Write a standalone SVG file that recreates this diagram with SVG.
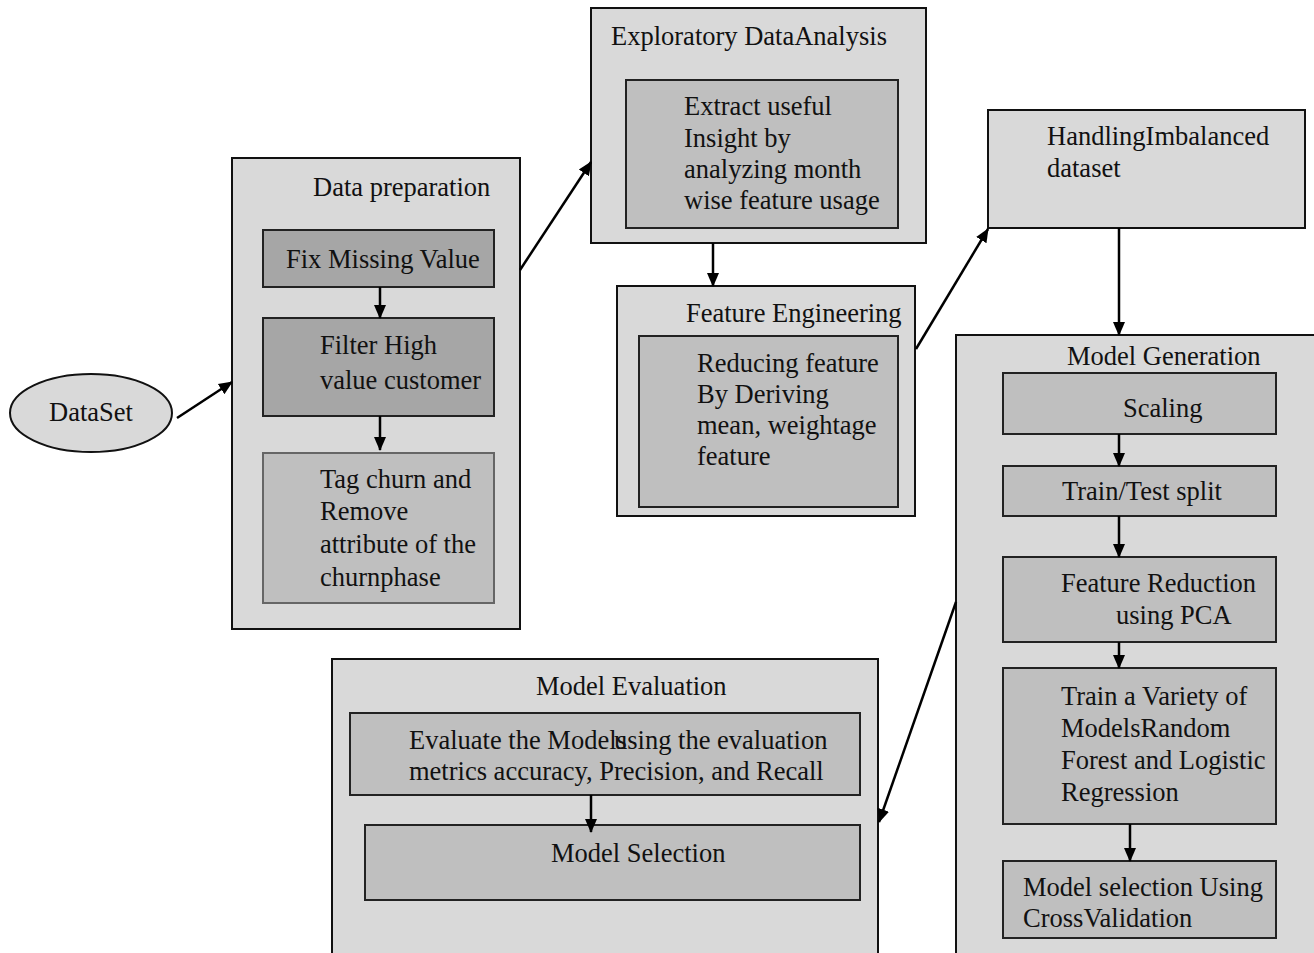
<svg xmlns="http://www.w3.org/2000/svg" width="1314" height="953" viewBox="0 0 1314 953">
<defs>
<marker id="ah" markerUnits="userSpaceOnUse" markerWidth="14" markerHeight="14" viewBox="0 0 14 14" refX="13" refY="7" orient="auto">
<path d="M0,1 L14,7 L0,13 Z" fill="#000"/>
</marker>
<style>
text{font-family:"Liberation Serif","Times New Roman",serif;font-size:26.5px;fill:#111}
.outer{fill:#d9d9d9;stroke:#111;stroke-width:2}
.dark{fill:#a6a6a6;stroke:#222;stroke-width:2}
.mid{fill:#bfbfbf;stroke:#222;stroke-width:2}
.soft{fill:#bfbfbf;stroke:#666;stroke-width:2}
.conn line{stroke:#000;stroke-width:2.5;marker-end:url(#ah)}
</style>
</defs>
<rect width="1314" height="953" fill="#fff"/>

<g id="dataset">
<ellipse cx="91" cy="413" rx="81" ry="39" fill="#d9d9d9" stroke="#111" stroke-width="2"/>
<text x="49" y="421">DataSet</text>
</g>

<g id="data-preparation">
<rect class="outer" x="232" y="158" width="288" height="471"/>
<text x="313" y="196">Data preparation</text>
</g>
<g id="fix-missing">
<rect class="dark" x="263" y="230" width="231" height="57"/>
<text x="286" y="268">Fix Missing Value</text>
</g>
<g id="filter-high">
<rect class="dark" x="263" y="318" width="231" height="98"/>
<text x="320" y="354">Filter High</text>
<text x="320" y="389">value customer</text>
</g>
<g id="tag-churn">
<rect class="soft" x="263" y="453" width="231" height="150"/>
<text x="320" y="488">Tag churn and</text>
<text x="320" y="520">Remove</text>
<text x="320" y="553">attribute of the</text>
<text x="320" y="586">churnphase</text>
</g>

<g id="eda">
<rect class="outer" x="591" y="8" width="335" height="235"/>
<text x="611" y="45">Exploratory DataAnalysis</text>
</g>
<g id="extract-insight">
<rect class="mid" x="626" y="80" width="272" height="148"/>
<text x="684" y="115">Extract useful</text>
<text x="684" y="147">Insight by</text>
<text x="684" y="178">analyzing month</text>
<text x="684" y="209">wise feature usage</text>
</g>

<g id="feature-engineering">
<rect class="outer" x="617" y="286" width="298" height="230"/>
<text x="686" y="322">Feature Engineering</text>
</g>
<g id="reducing-feature">
<rect class="mid" x="639" y="336" width="259" height="171"/>
<text x="697" y="372">Reducing feature</text>
<text x="697" y="403">By Deriving</text>
<text x="697" y="434">mean, weightage</text>
<text x="697" y="465">feature</text>
</g>

<g id="handling-imbalanced">
<rect class="outer" x="988" y="110" width="317" height="118"/>
<text x="1047" y="145">HandlingImbalanced</text>
<text x="1047" y="177">dataset</text>
</g>

<g id="model-generation">
<rect class="outer" x="956" y="335" width="370" height="630"/>
<text x="1067" y="365">Model Generation</text>
</g>
<g id="scaling">
<rect class="mid" x="1003" y="373" width="273" height="61"/>
<text x="1123" y="417">Scaling</text>
</g>
<g id="train-test">
<rect class="mid" x="1003" y="466" width="273" height="50"/>
<text x="1062" y="500">Train/Test split</text>
</g>
<g id="feature-reduction">
<rect class="mid" x="1003" y="557" width="273" height="85"/>
<text x="1061" y="592">Feature Reduction</text>
<text x="1116" y="624">using PCA</text>
</g>
<g id="train-variety">
<rect class="mid" x="1003" y="668" width="273" height="156"/>
<text x="1061" y="705">Train a Variety of</text>
<text x="1061" y="737">ModelsRandom</text>
<text x="1061" y="769">Forest and Logistic</text>
<text x="1061" y="801">Regression</text>
</g>
<g id="model-selection-cv">
<rect class="mid" x="1003" y="861" width="273" height="77"/>
<text x="1023" y="896">Model selection Using</text>
<text x="1023" y="927">CrossValidation</text>
</g>

<g id="model-evaluation">
<rect class="outer" x="332" y="659" width="546" height="310"/>
<text x="536" y="695">Model Evaluation</text>
</g>
<g id="evaluate-models">
<rect class="mid" x="350" y="713" width="510" height="82"/>
<text x="409" y="749">Evaluate the Models</text>
<text x="614" y="749">using the evaluation</text>
<text x="409" y="780">metrics accuracy, Precision, and Recall</text>
</g>
<g id="model-selection">
<rect class="mid" x="365" y="825" width="495" height="75"/>
<text x="551" y="862">Model Selection</text>
</g>

<g id="connectors" class="conn">
<line x1="177" y1="418" x2="232" y2="382"/>
<line x1="380" y1="287" x2="380" y2="318"/>
<line x1="380" y1="416" x2="380" y2="450"/>
<line x1="520" y1="270" x2="591" y2="162"/>
<line x1="713" y1="243" x2="713" y2="286"/>
<line x1="916" y1="349" x2="988" y2="229"/>
<line x1="1119" y1="228" x2="1119" y2="335"/>
<line x1="1119" y1="434" x2="1119" y2="466"/>
<line x1="1119" y1="516" x2="1119" y2="557"/>
<line x1="1119" y1="642" x2="1119" y2="668"/>
<line x1="1130" y1="824" x2="1130" y2="861"/>
<line x1="956" y1="602" x2="879" y2="822"/>
<line x1="591" y1="795" x2="591" y2="832"/>
</g>
</svg>
